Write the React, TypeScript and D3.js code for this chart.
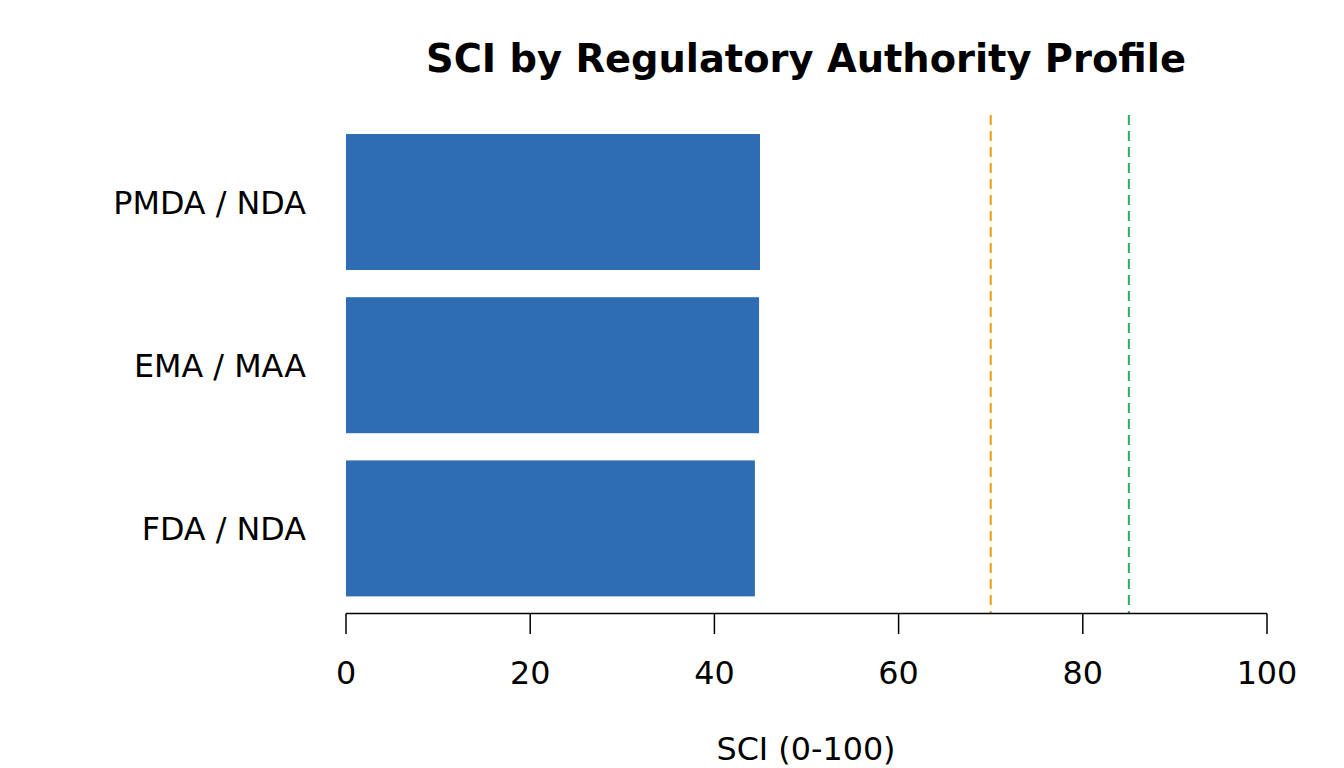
import React from 'react';
import * as d3 from 'd3';

const categories = ['PMDA / NDA', 'EMA / MAA', 'FDA / NDA'];
const sciValues = [44.95, 44.85, 44.4];
const xTicks = [0, 20, 40, 60, 80, 100];
const thresholds = [70, 85];
const thresholdColors = ['#F39C12', '#27AE60'];

const width = 1344;
const height = 768;
const plot = { left: 346, right: 1267, top: 134, axisY: 613.5 };
const font = 'DejaVu Sans, sans-serif';

export default function App() {
    const x = d3.scaleLinear().domain([0, 100]).range([plot.left, plot.right]);
    const y = d3.scaleBand<string>()
        .domain(categories)
        .range([plot.top, plot.top + 163.2 * (3 - 1 / 6)])
        .paddingInner(1 / 6)
        .paddingOuter(0);

    return (
        <svg
            width={width}
            height={height}
            viewBox={`0 0 ${width} ${height}`}
            style={{ position: 'absolute', left: 0, top: 0, background: '#fff' }}
            fontFamily={font}
        >
            <text x={806} y={72} textAnchor="middle" fontSize={38.4} fontWeight="bold" fill="#000">
                SCI by Regulatory Authority Profile
            </text>

            {/* bars */}
            {categories.map((c, i) => (
                <rect
                    key={c}
                    x={x(0)}
                    y={y(c)}
                    width={x(sciValues[i]) - x(0)}
                    height={y.bandwidth()}
                    fill="#2E6DB4"
                />
            ))}

            {/* category labels */}
            {categories.map(c => (
                <text
                    key={c}
                    x={306}
                    y={(y(c) as number) + y.bandwidth() / 2 + 11.5}
                    textAnchor="end"
                    fontSize={31.8}
                    fill="#000"
                >
                    {c}
                </text>
            ))}

            {/* threshold lines */}
            {thresholds.map((t, i) => (
                <line
                    key={t}
                    x1={x(t)}
                    x2={x(t)}
                    y1={115}
                    y2={plot.axisY}
                    stroke={thresholdColors[i]}
                    strokeWidth={2}
                    strokeDasharray="10,6"
                />
            ))}

            {/* x axis */}
            <line x1={x(0)} x2={x(100)} y1={plot.axisY} y2={plot.axisY} stroke="#000" strokeWidth={1.5} />
            {xTicks.map(t => (
                <g key={t}>
                    <line x1={x(t)} x2={x(t)} y1={plot.axisY} y2={634} stroke="#000" strokeWidth={1.5} />
                    <text x={x(t)} y={684} textAnchor="middle" fontSize={31.8} fill="#000">
                        {t}
                    </text>
                </g>
            ))}
            <text x={806} y={760} textAnchor="middle" fontSize={31.8} fill="#000">
                SCI (0-100)
            </text>
        </svg>
    );
}
